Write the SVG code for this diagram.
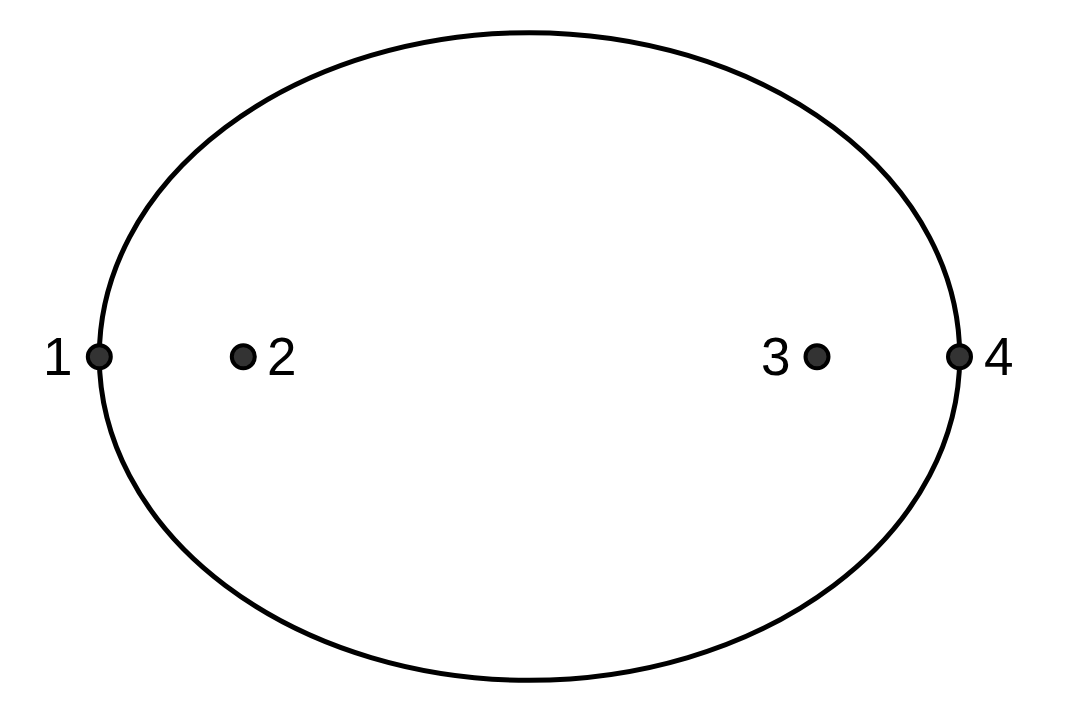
<svg xmlns="http://www.w3.org/2000/svg" width="1082" height="714" viewBox="0 0 1082 714">
<style>
.curve{fill:none;stroke:#000;stroke-width:5}
.pt{fill:#333;stroke:#000;stroke-width:4}
.lbl{font-family:"Liberation Sans",Arial,sans-serif;font-size:53px;fill:#000}
</style>
<rect width="1082" height="714" fill="#fff"/>
<g id="connectors">
<ellipse class="curve" cx="529.5" cy="356.5" rx="430.2" ry="323.8"/>
</g>
<g id="p1"><circle class="pt" cx="99.3" cy="356.7" r="11.5"/><text class="lbl" x="43" y="375">1</text></g>
<g id="p2"><circle class="pt" cx="243.3" cy="356.7" r="11.5"/><text class="lbl" x="267" y="375">2</text></g>
<g id="p3"><circle class="pt" cx="817" cy="356.7" r="11.5"/><text class="lbl" x="761" y="375">3</text></g>
<g id="p4"><circle class="pt" cx="959.5" cy="356.7" r="11.5"/><text class="lbl" x="984" y="375">4</text></g>
</svg>
